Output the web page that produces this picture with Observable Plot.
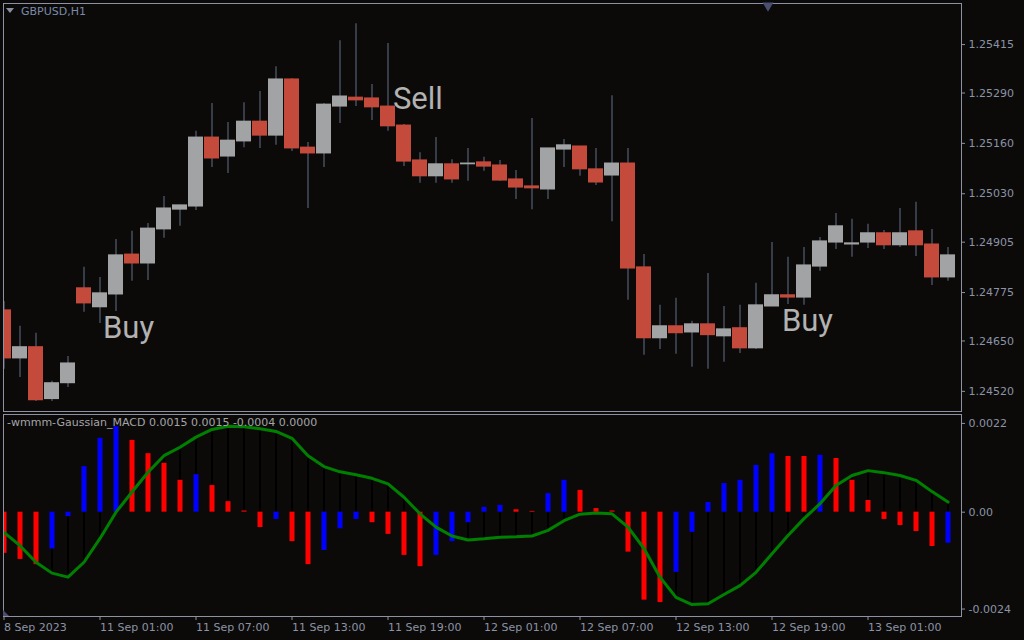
<!DOCTYPE html>
<html><head><meta charset="utf-8">
<script src="https://cdn.jsdelivr.net/npm/d3@7"></script>
<script src="https://cdn.jsdelivr.net/npm/@observablehq/plot@0.6"></script>
<style>
html,body{margin:0;padding:0;background:#0c0a08;}
#wrap{position:relative;width:1024px;height:640px;overflow:hidden;background:#0c0a08;font-family:"DejaVu Sans",sans-serif;}
#topPanel{position:absolute;left:0;top:0;}
#botPanel{position:absolute;left:0;top:412px;}
#sym{position:absolute;left:6px;top:5px;font-size:11px;line-height:14px;color:#7a8aa8;white-space:nowrap;}
#sym .tri{display:inline-block;width:0;height:0;border-left:4px solid transparent;border-right:4px solid transparent;border-top:5px solid #8a91a3;margin-right:7px;vertical-align:2px;}
#ind{position:absolute;left:7px;top:416px;font-size:11px;line-height:14px;color:#a3a4a9;white-space:nowrap;}
#corner{position:absolute;left:3px;top:610px;width:0;height:0;border-bottom:6px solid #4a4e72;border-right:6px solid transparent;}
svg{display:block}
</style></head>
<body><div id="wrap"><div id="topPanel"></div><div id="botPanel"></div>
<div id="sym"><span class="tri"></span><span id="symtext"></span></div>
<div id="ind"></div><div id="corner"></div></div>
<script>
// ---- data ----
const symbolName = "GBPUSD,H1";
const indicatorName = "-wmmm-Gaussian_MACD";
const indicatorValues = ["0.0015", "0.0015", "-0.0004", "0.0000"];

const opens = [1.24729,1.24605,1.24634,1.24500,1.24541,1.24786,1.24737,1.24770,1.24873,1.24850,
1.24938,1.24989,1.24997,1.25175,1.25126,1.25165,1.25216,1.25180,1.25325,1.25149,
1.25134,1.25255,1.25278,1.25276,1.25255,1.25206,1.25116,1.25075,1.25106,1.25106,
1.25111,1.25103,1.25067,1.25049,1.25041,1.25144,1.25152,1.25093,1.25077,1.25108,
1.24840,1.24657,1.24688,1.24672,1.24693,1.24662,1.24683,1.24631,1.24739,1.24768,
1.24762,1.24842,1.24904,1.24899,1.24904,1.24928,1.24897,1.24933,1.24899,1.24814];
const highs = [1.24752,1.24688,1.24670,1.24546,1.24610,1.24840,1.24814,1.24912,1.24933,1.24953,
1.25023,1.25000,1.25191,1.25263,1.25214,1.25265,1.25294,1.25358,1.25327,1.25162,
1.25263,1.25425,1.25469,1.25312,1.25418,1.25209,1.25136,1.25175,1.25118,1.25147,
1.25124,1.25116,1.25090,1.25224,1.25147,1.25170,1.25152,1.25147,1.25283,1.25147,
1.24873,1.24742,1.24760,1.24701,1.24824,1.24739,1.24742,1.24799,1.24904,1.24866,
1.24891,1.24917,1.24979,1.24964,1.24951,1.24935,1.24992,1.25008,1.24938,1.24891];
const lows = [1.24577,1.24556,1.24494,1.24494,1.24530,1.24724,1.24695,1.24726,1.24804,1.24806,
1.24915,1.24946,1.24987,1.25098,1.25082,1.25149,1.25147,1.25155,1.25139,1.24992,
1.25098,1.25211,1.25255,1.25219,1.25191,1.25100,1.25057,1.25057,1.25057,1.25062,
1.25088,1.25062,1.25015,1.24989,1.25015,1.25098,1.25075,1.25051,1.24958,1.24755,
1.24613,1.24628,1.24616,1.24582,1.24577,1.24595,1.24618,1.24628,1.24739,1.24744,
1.24742,1.24830,1.24886,1.24866,1.24889,1.24886,1.24891,1.24868,1.24793,1.24804];
const closes = [1.24605,1.24634,1.24497,1.24541,1.24592,1.24747,1.24773,1.24871,1.24850,1.24940,
1.24992,1.25000,1.25175,1.25121,1.25167,1.25216,1.25180,1.25325,1.25147,1.25134,
1.25260,1.25281,1.25271,1.25253,1.25204,1.25113,1.25075,1.25106,1.25067,1.25108,
1.25100,1.25064,1.25046,1.25044,1.25147,1.25155,1.25093,1.25059,1.25108,1.24837,
1.24657,1.24688,1.24670,1.24693,1.24665,1.24680,1.24631,1.24742,1.24768,1.24762,
1.24845,1.24907,1.24946,1.24902,1.24928,1.24897,1.24928,1.24897,1.24814,1.24871];

// MACD histogram and signal, in units of 0.0001
const histValues = [-10.2,-11.7,-13.0,-9.1,-1.1,11.3,18.3,21.2,17.8,14.5,
12.1,7.9,9.3,6.6,2.6,0.3,-3.8,-1.8,-7.3,-13.0,
-9.5,-4.1,-1.8,-2.6,-5.5,-10.7,-13.5,-10.7,-7.3,-2.6,
1.2,1.7,0.6,0.2,4.6,7.9,5.4,0.9,0.3,-9.9,
-21.8,-22.4,-14.9,-5.0,2.4,7.1,7.9,11.6,14.5,13.8,
13.8,14.1,13.3,7.9,2.9,-1.8,-3.3,-4.8,-8.5,-7.7];
const histColors = ["r","r","r","b","b","b","b","b","r","r",
"r","r","b","r","r","r","r","b","r","r",
"b","b","b","r","r","r","r","b","b","b",
"b","b","r","r","b","b","r","r","r","r",
"r","r","b","b","b","b","b","b","b","r",
"r","b","r","r","r","r","r","r","r","b"];
const signalValues = [-5.0,-8.3,-12.4,-15.1,-16.1,-12.4,-6.5,0,5.0,9.9,
14.0,16.1,18.6,20.5,21.3,21.2,20.7,20.0,18.3,14.0,
11.3,10.0,9.3,8.4,7.0,3.7,-0.4,-3.7,-5.9,-6.9,
-6.6,-6.2,-6.1,-5.9,-4.5,-2.1,-0.5,-0.2,-0.4,-3.7,
-9.0,-16.1,-21.1,-22.9,-22.7,-20.4,-18.2,-14.9,-10.3,-5.8,
-1.6,2.1,6.6,9.1,10.3,9.8,9.1,7.9,5.1,2.5];

const priceTicks = [1.25415,1.25290,1.25160,1.25030,1.24905,1.24775,1.24650,1.24520];
const macdTicks = [0.0022, 0, -0.0024];
const macdTickLabels = ["0.0022", "0.00", "-0.0024"];
const timeTicks = [0,6,12,18,24,30,36,42,48,54];
const timeLabels = ["8 Sep 2023","11 Sep 01:00","11 Sep 07:00","11 Sep 13:00","11 Sep 19:00","12 Sep 01:00","12 Sep 07:00","12 Sep 13:00","12 Sep 19:00","13 Sep 01:00"];

const signalLabels = ["Buy","Sell","Buy"];
const signalBars = [6.19, 24.31, 48.62];
const signalPrices = [1.24657, 1.25249, 1.24677];
const shiftMarkerBar = [47.75];

// ---- build ----
const candles = opens.map((o,i)=>({i, o, h: highs[i], l: lows[i], c: closes[i], up: closes[i] >= o}));
const bars = histValues.map((v,i)=>({i, v: v*1e-4, s: signalValues[i]*1e-4, col: histColors[i]}));
const sigs = signalLabels.map((t,k)=>({t, i: signalBars[k], p: signalPrices[k]}));

const axisColor = "#8a93a7";
const frameColor = "#8c92a3";
const xDomain = [-0.03125, 59.84375];
const half = 0.46875;
const chartStyle = {background:"transparent", color: axisColor, fontFamily:"DejaVu Sans", fontSize:"11px", overflow:"visible"};

const topChart = Plot.plot({
  width:1024, height:412, marginTop:3, marginBottom:1, marginLeft:3, marginRight:63,
  style: chartStyle,
  x:{domain:xDomain, axis:null},
  y:{domain:[1.24468, 1.25521], axis:null},
  marks:[
    Plot.ruleX(candles,{x:"i", y1:"l", y2:"h", stroke:"#373c49", strokeWidth:2, clip:true}),
    Plot.rect(candles.filter(d=>d.up),{x1:d=>d.i-half, x2:d=>d.i+half, y1:"o", y2:"c", fill:"#a2a3a5", insetTop:-0.5, insetBottom:-0.5, clip:true}),
    Plot.rect(candles.filter(d=>!d.up),{x1:d=>d.i-half, x2:d=>d.i+half, y1:"o", y2:"c", fill:"#c44b3b", insetTop:-0.5, insetBottom:-0.5, clip:true}),
    Plot.text(sigs,{x:"i", y:"p", text:"t", textAnchor:"start", lineAnchor:"bottom", fontSize:31, fontFamily:"Roboto", fill:"#b2b2b2"}),
    Plot.frame({stroke:frameColor}),
    Plot.dot(shiftMarkerBar,{x:d=>d, frameAnchor:"top", symbol:"triangle", rotate:180, r:4, dy:2, fill:"#4a4e72", stroke:"none"}),
    Plot.axisY({anchor:"right", ticks:priceTicks, tickFormat:d=>d.toFixed(5), tickSize:3, tickPadding:4, color:axisColor, label:null})
  ]
});
document.getElementById("topPanel").appendChild(topChart);

const botChart = Plot.plot({
  width:1024, height:228, marginTop:2, marginBottom:24, marginLeft:3, marginRight:63,
  style: chartStyle,
  x:{domain:xDomain, axis:null},
  y:{domain:[-0.002585, 0.002421], axis:null},
  marks:[
    Plot.ruleX(bars,{x:"i", y1:0, y2:"s", stroke:"#000000", strokeWidth:2, clip:true}),
    Plot.ruleX(bars.filter(d=>d.col==="r"),{x:"i", y1:0, y2:"v", stroke:"#ff0000", strokeWidth:5, clip:true}),
    Plot.ruleX(bars.filter(d=>d.col==="b"),{x:"i", y1:0, y2:"v", stroke:"#0000ff", strokeWidth:5, clip:true}),
    Plot.line(bars,{x:"i", y:"s", stroke:"#008000", strokeWidth:3, clip:true}),
    Plot.frame({stroke:frameColor}),
    Plot.axisX({ticks:timeTicks, tickFormat:d=>timeLabels[timeTicks.indexOf(d)], textAnchor:"start", tickSize:4, tickPadding:3, color:axisColor, label:null}),
    Plot.axisY({anchor:"right", ticks:macdTicks, tickFormat:d=>macdTickLabels[macdTicks.indexOf(d)], tickSize:3, tickPadding:4, color:axisColor, label:null})
  ]
});
document.getElementById("botPanel").appendChild(botChart);

document.getElementById("symtext").textContent = symbolName;
document.getElementById("ind").textContent = indicatorName + " " + indicatorValues.join(" ");
</script>
</body></html>
